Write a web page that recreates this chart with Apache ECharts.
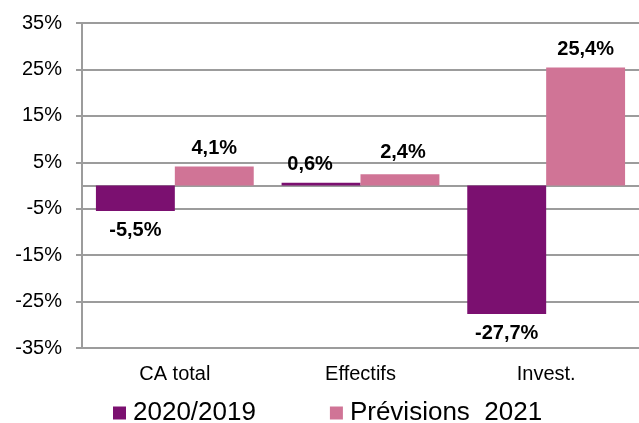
<!DOCTYPE html>
<html><head><meta charset="utf-8">
<script src="https://cdn.jsdelivr.net/npm/echarts@6/dist/echarts.min.js"></script>
<style>html,body{margin:0;padding:0;background:#fff}#c{width:639px;height:423px}</style>
</head><body><div id="c"></div>
<script>
const categories = ['CA total', 'Effectifs', 'Invest.'];
const seriesNames = ['2020/2019', 'Prévisions  2021'];
const values2020 = [-5.5, 0.6, -27.7];
const values2021 = [4.1, 2.4, 25.4];
const yTicks = { min: -35, max: 35, interval: 10 };

const FONT = 'Liberation Sans, Arial';
const fmt = v => v.toFixed(1).replace('.', ',') + '%';
// label nudges (series index, category index) -> pixel offset, as in the original
const labelNudge = { '0-1': [-11, 0], '1-1': [3, -4] };
function mk(vals, s) {
  return vals.map((v, i) => ({
    value: v,
    label: { position: v < 0 ? 'bottom' : 'top', distance: v < 0 ? 9 : 8, offset: labelNudge[s + '-' + i] || [0, 0] }
  }));
}
const labelStyle = { show: true, fontFamily: FONT, fontWeight: 'bold', fontSize: 20, color: '#000', formatter: p => fmt(p.value) };
const gridColor = '#9c9c9c';

const chart = echarts.init(document.getElementById('c'), null, { renderer: 'canvas' });
chart.setOption({
  animation: false,
  textStyle: { fontFamily: FONT },
  grid: { left: 82, right: 0, top: 23, bottom: 75, containLabel: false },
  legend: {
    data: seriesNames,
    top: 400,
    left: 113,
    padding: 0,
    itemWidth: 13, itemHeight: 13, itemGap: 74,
    icon: 'rect',
    textStyle: { fontSize: 26, color: '#000', fontFamily: FONT, padding: [0, 0, 0, 2] }
  },
  xAxis: [{
    type: 'category', data: categories,
    axisLine: { show: true, onZero: true, lineStyle: { color: gridColor, width: 2 } },
    axisTick: { show: false },
    axisLabel: { show: false }
  }, {
    type: 'category', data: categories, position: 'bottom',
    axisLine: { show: false },
    axisTick: { show: false },
    axisLabel: { show: true, fontSize: 20, color: '#000', fontFamily: FONT, margin: 16 }
  }],
  yAxis: {
    type: 'value', min: yTicks.min, max: yTicks.max, interval: yTicks.interval,
    axisLine: { show: true, lineStyle: { color: gridColor, width: 2 } },
    axisTick: { show: true, length: 6, lineStyle: { color: gridColor, width: 2 } },
    axisLabel: { fontSize: 20, color: '#000', fontFamily: FONT, margin: 20, formatter: v => v + '%' },
    splitLine: { show: true, lineStyle: { color: gridColor, width: 2 } }
  },
  series: [
    { name: seriesNames[0], type: 'bar', xAxisIndex: 0, data: mk(values2020, 0), itemStyle: { color: '#7B1070' }, barGap: '0%', barCategoryGap: '15%', label: labelStyle },
    { name: seriesNames[1], type: 'bar', xAxisIndex: 0, data: mk(values2021, 1), itemStyle: { color: '#D07496' }, label: labelStyle }
  ]
});
</script></body></html>
